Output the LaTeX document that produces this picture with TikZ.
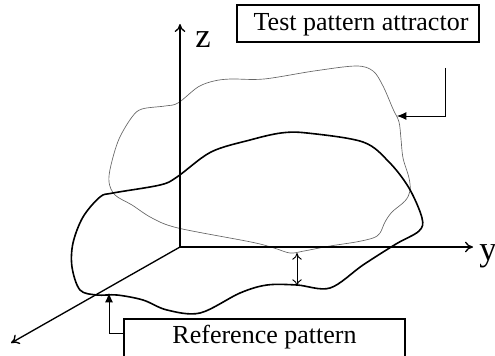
\documentclass[tikz,border=0pt]{standalone}
\usepackage{fontspec}
\setmainfont{Liberation Serif}
\usetikzlibrary{arrows.meta}
\begin{document}
\begin{tikzpicture}[x=0.75pt,y=-0.75pt,
  axis/.style={line width=1pt,-{To[length=6pt,width=8pt]}},
  refcurve/.style={line width=1.2pt,black},
  testcurve/.style={line width=0.5pt,black!60},
  lbox/.style={draw,line width=0.8pt,inner sep=0pt},
  ltext/.style={inner sep=0pt,font=\fontsize{19.5}{23}\selectfont},
  callout/.style={line width=0.7pt,-{Latex[length=7pt,width=6pt]}},
  axlabel/.style={font=\fontsize{26}{28}\selectfont,inner sep=0pt}]
\useasboundingbox (0,0) rectangle (495,356);
\coordinate (O) at (180,247);
\coordinate (Z) at (180,24);
\coordinate (Y) at (473,247);
\coordinate (X) at (11,343);
% test pattern (thin)
\draw[testcurve] plot[smooth cycle,tension=0.55] coordinates {
 (109,182) (111,165) (119,139) (132,117) (142,109) (165,106) (178,103) (198,87) (214,81) (231,79)
 (264,79) (314,71) (356,66) (373,71) (383,86) (393,109) (399,122) (401,139) (403,158)
 (409,178) (410,191) (405,201) (392,212) (385,222) (380,233) (373,238) (356,242) (330,246)
 (304,251) (290,253) (274,248) (251,242) (178,228) (152,218) (132,205) (115,195)};
% reference pattern (thick)
\draw[refcurve] plot[smooth cycle,tension=0.55] coordinates {
 (97,295) (80,290) (72,267) (73,243) (83,217) (100,197) (113,193) (160,185) (177,177)
 (211,152) (250,140) (281,133) (307,133) (363,142) (389,162) (409,188) (422,218)
 (419,231) (396,244) (363,265) (330,288) (297,285) (267,285) (240,293) (200,313)
 (167,310) (143,300) (117,295)};
% axes
\draw[axis] (O) -- (Z);
\draw[axis] (O) -- (Y);
\draw[axis] (O) -- (X);
\node[axlabel] (zl) at (203,40) {z};
\node[axlabel] (yl) at (488,256) {y};
% distance arrow
\coordinate (d1) at (297,253);
\coordinate (d2) at (297,286);
\draw[line width=0.7pt,{To[length=5pt,width=7pt]}-{To[length=5pt,width=7pt]}] (d1) -- (d2);
% boxes
\node[lbox,minimum width=242pt*0.75,minimum height=37pt*0.75] (test) at (358,23.5) {};
\node[ltext] (testt) at (361,24.5) {Test pattern attractor};
\node[lbox,minimum width=281pt*0.75,minimum height=84pt*0.75] (ref) at (264.5,361) {};
\node[ltext] (reft) at (264.5,337) {Reference pattern};
% callouts
\coordinate (t1) at (445,68);
\coordinate (t2) at (445,116);
\coordinate (t3) at (397,116);
\draw[callout] (t1) -- (t2) -- (t3);
\coordinate (r1) at (125,333);
\coordinate (r2) at (109,333);
\coordinate (r3) at (109,293);
\draw[callout] (r1) -- (r2) -- (r3);
\end{tikzpicture}
\end{document}
